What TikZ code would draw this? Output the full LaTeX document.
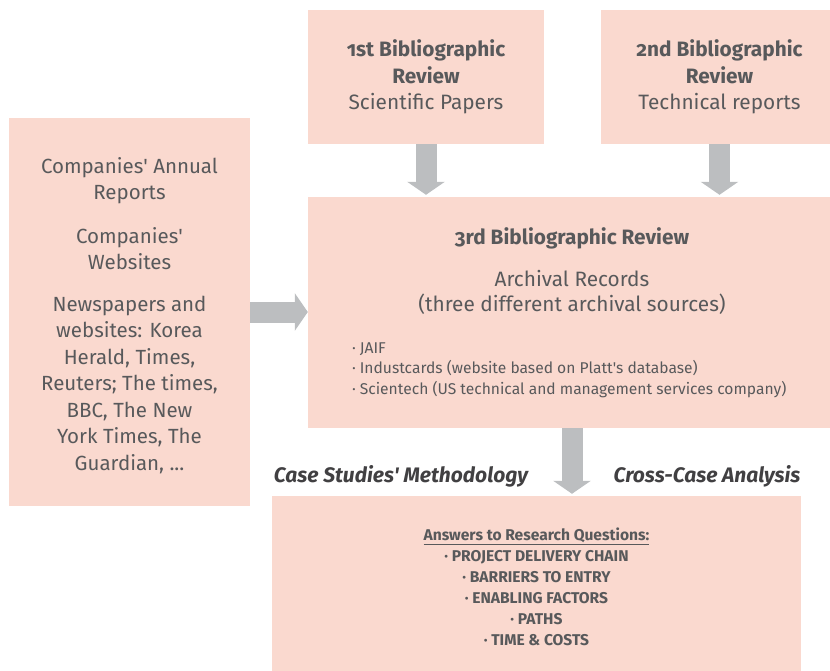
\documentclass[tikz,border=0pt]{standalone}
\usepackage{fontspec}
\setmainfont{Fira Sans}[Numbers=OldStyle]
\usetikzlibrary{arrows.meta,calc}
\definecolor{boxc}{RGB}{250,217,207}
\definecolor{arrc}{RGB}{188,190,192}
\definecolor{txtc}{RGB}{88,89,91}
\definecolor{labc}{RGB}{65,64,66}
\newcommand{\apo}{\textquotesingle}
\begin{document}
\begin{tikzpicture}[x=1pt,y=-1pt,
  box/.style={fill=boxc, draw=none, inner sep=0pt, text=txtc, align=center},
  flow/.style={draw=arrc, line width=21pt, -{Triangle[width=37pt,length=13pt]}},
  lab/.style={text=labc, inner sep=0pt, font=\fontsize{21}{24}\selectfont\bfseries\itshape}]
\useasboundingbox (0,0) rectangle (830,671);
\node[box, minimum width=236pt, minimum height=134pt,
  font=\fontsize{20.8}{26.5}\selectfont] (b1) at (426,77)
  {\textbf{1st Bibliographic}\\\textbf{Review}\\Scientific Papers};
\node[box, minimum width=237pt, minimum height=134pt,
  font=\fontsize{20.8}{26.5}\selectfont] (b2) at (719.5,77)
  {\textbf{2nd Bibliographic}\\\textbf{Review}\\Technical reports};
\node[box, minimum width=241pt, minimum height=388pt,
  font=\fontsize{20.5}{26.5}\selectfont] (lb) at (129.5,312)
  {\rule{0pt}{23pt}Companies\apo{} Annual\\Reports\\[17pt]Companies\apo\\Websites\\[15pt]Newspapers and\\websites: Korea\\Herald, Times,\\Reuters; The times,\\BBC, The New\\York Times, The\\Guardian, ...};
\node[box, minimum width=528pt, minimum height=231pt,
  font=\fontsize{20.8}{25}\selectfont] (b3) at (572,312.5)
  {\textbf{3rd Bibliographic Review}\\[17pt]Archival Records\\(three different archival sources)\\[27pt]
   \parbox{440pt}{\raggedright\fontsize{15.6}{20.5}\selectfont
   · JAIF\\
   · Industcards (website based on Platt\apo s database)\\
   · Scientech (US technical and management services company)}};
\node[box, minimum width=529pt, minimum height=182pt,
  font=\fontsize{15.6}{21}\selectfont\bfseries] (b5) at (536.5,587)
  {\underline{Answers to Research Questions:}\\· PROJECT DELIVERY CHAIN\\· BARRIERS TO ENTRY\\· ENABLING FACTORS\\· PATHS\\· TIME \& COSTS};
\node[lab] (l1) at (401,476) {Case Studies\apo{} Methodology};
\node[lab] (l2) at (707,476) {Cross-Case Analysis};
\draw[flow, shorten >=2pt] (b1.south) -- (b1.south |- b3.north);
\draw[flow, shorten >=2pt] (b2.south) -- (b2.south |- b3.north);
\draw[flow] (lb.east) -- (lb.east -| b3.west);
\draw[flow, shorten >=2pt] (b3.south) -- (b3.south |- b5.north);
\end{tikzpicture}
\end{document}
